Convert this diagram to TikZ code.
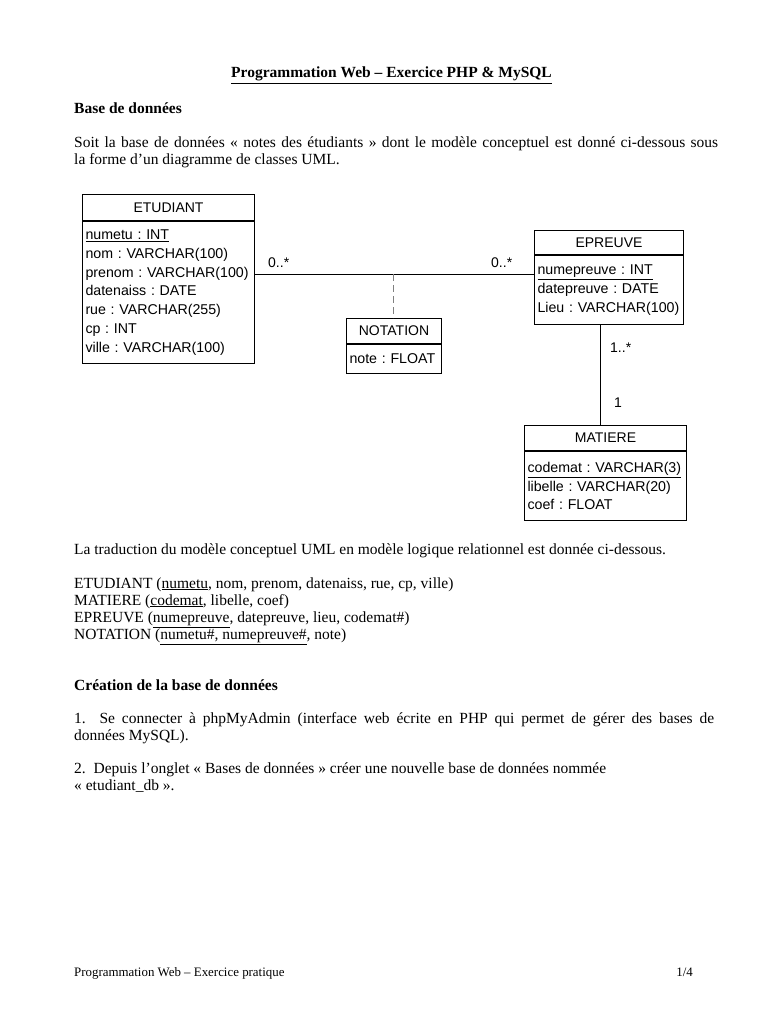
\documentclass[tikz,border=0pt]{standalone}
\usepackage{fontspec}
\setmainfont{Liberation Serif}
\newfontfamily\umlfont{Liberation Sans}
\begin{document}
\begin{tikzpicture}[x=1pt,y=-1pt,
  txt/.style={anchor=base west, inner sep=0pt, font=\fontsize{15.5}{17}\selectfont},
  hdtxt/.style={anchor=base west, inner sep=0pt, font=\bfseries\fontsize{15.5}{17}\selectfont},
  foot/.style={inner sep=0pt, font=\fontsize{12.9}{15}\selectfont},
  clshd/.style={draw, line width=1pt, inner sep=0pt, anchor=north west,
    font=\umlfont\fontsize{14}{18.7}\selectfont},
  clsbody/.style={draw, line width=1pt, inner xsep=3pt, inner ysep=0pt, anchor=north west,
    align=left, font=\umlfont\frenchspacing\fontsize{14.2}{18.7}\selectfont},
  mult/.style={anchor=base west, inner sep=0pt, font=\umlfont\fontsize{14}{16}\selectfont},
  assoc/.style={line width=1pt},
  assocdash/.style={line width=0.8pt, gray, dash pattern=on 7pt off 4pt}
]
\useasboundingbox[fill=white] (0,0) rectangle (768,1024);

% title and intro
\node[anchor=base, inner sep=0pt, font=\bfseries\fontsize{15.5}{17}\selectfont] (title) at (391.5,78)
  {\underline{Programmation Web – Exercice PHP \& MySQL}};
\node[hdtxt] (h1) at (74,114) {Base de données};
\node[txt] (p1) at (74,148) {\makebox[644pt][s]{Soit la base de données « notes des étudiants » dont le modèle conceptuel est donné ci-dessous sous}};
\node[txt] (p2) at (74,165) {la forme d’un diagramme de classes UML.};

% UML classes
\node[clshd, minimum width=172, minimum height=26] (etu-h) at (82,194) {ETUDIANT};
\node[clsbody, text width=166, minimum height=142] (etu) at (etu-h.south west)
  {\underline{numetu : INT}\\ nom : VARCHAR(100)\\ prenom : VARCHAR(100)\\ datenaiss : DATE\\ rue : VARCHAR(255)\\ cp : INT\\ ville : VARCHAR(100)};

\node[clshd, minimum width=149, minimum height=24] (epr-h) at (534,230) {EPREUVE};
\node[clsbody, text width=143, minimum height=69] (epr) at (epr-h.south west)
  {\underline{numepreuve : INT}\\ datepreuve : DATE\\ Lieu : VARCHAR(100)};

\node[clshd, minimum width=95, minimum height=25] (not-h) at (346,318) {NOTATION};
\node[clsbody, text width=89, minimum height=29] (not) at (not-h.south west) {note : FLOAT};

\node[clshd, minimum width=162, minimum height=25] (mat-h) at (524,425) {MATIERE};
\node[clsbody, text width=156, minimum height=69] (mat) at (mat-h.south west)
  {\underline{codemat : VARCHAR(3)}\\ libelle : VARCHAR(20)\\ coef : FLOAT};

% associations
\coordinate (assocpt) at (393,274);
\coordinate (vlink) at (600,0);
\draw[assoc] (etu.east |- assocpt) -- (epr.west |- assocpt);
\draw[assocdash] (assocpt) -- (not-h.north -| assocpt);
\draw[assoc] (epr.south -| vlink) -- (mat-h.north -| vlink);

\node[mult] (m1) at (268,267) {0..*};
\node[mult] (m2) at (491,267) {0..*};
\node[mult] (m3) at (610,352) {1..*};
\node[mult] (m4) at (614,407) {1};

% relational model
\node[txt] (p3) at (74,554) {La traduction du modèle conceptuel UML en modèle logique relationnel est donnée ci-dessous.};
\node[txt] (r1) at (74,588) {ETUDIANT (\underline{numetu}, nom, prenom, datenaiss, rue, cp, ville)};
\node[txt] (r2) at (74,605) {MATIERE (\underline{codemat}, libelle, coef)};
\node[txt] (r3) at (74,622) {EPREUVE (\underline{numepreuve}, datepreuve, lieu, codemat\#)};
\node[txt] (r4) at (74,639) {NOTATION (\underline{numetu\#, numepreuve\#}, note)};

% creation
\node[hdtxt] (h2) at (74,690) {Création de la base de données};
\node[txt] (s1) at (74,723) {\makebox[640pt][s]{1.\ \ Se connecter à phpMyAdmin (interface web écrite en PHP qui permet de gérer des bases de}};
\node[txt] (s1b) at (74,740) {données MySQL).};
\node[txt] (s2) at (74,773) {2.\ \ Depuis l’onglet « Bases de données » créer une nouvelle base de données nommée};
\node[txt] (s2b) at (74,790) {« etudiant\_db ».};

% footer
\node[foot, anchor=base west] (f1) at (74,976) {Programmation Web – Exercice pratique};
\node[foot, anchor=base east] (f2) at (693,976) {1/4};
\end{tikzpicture}
\end{document}
